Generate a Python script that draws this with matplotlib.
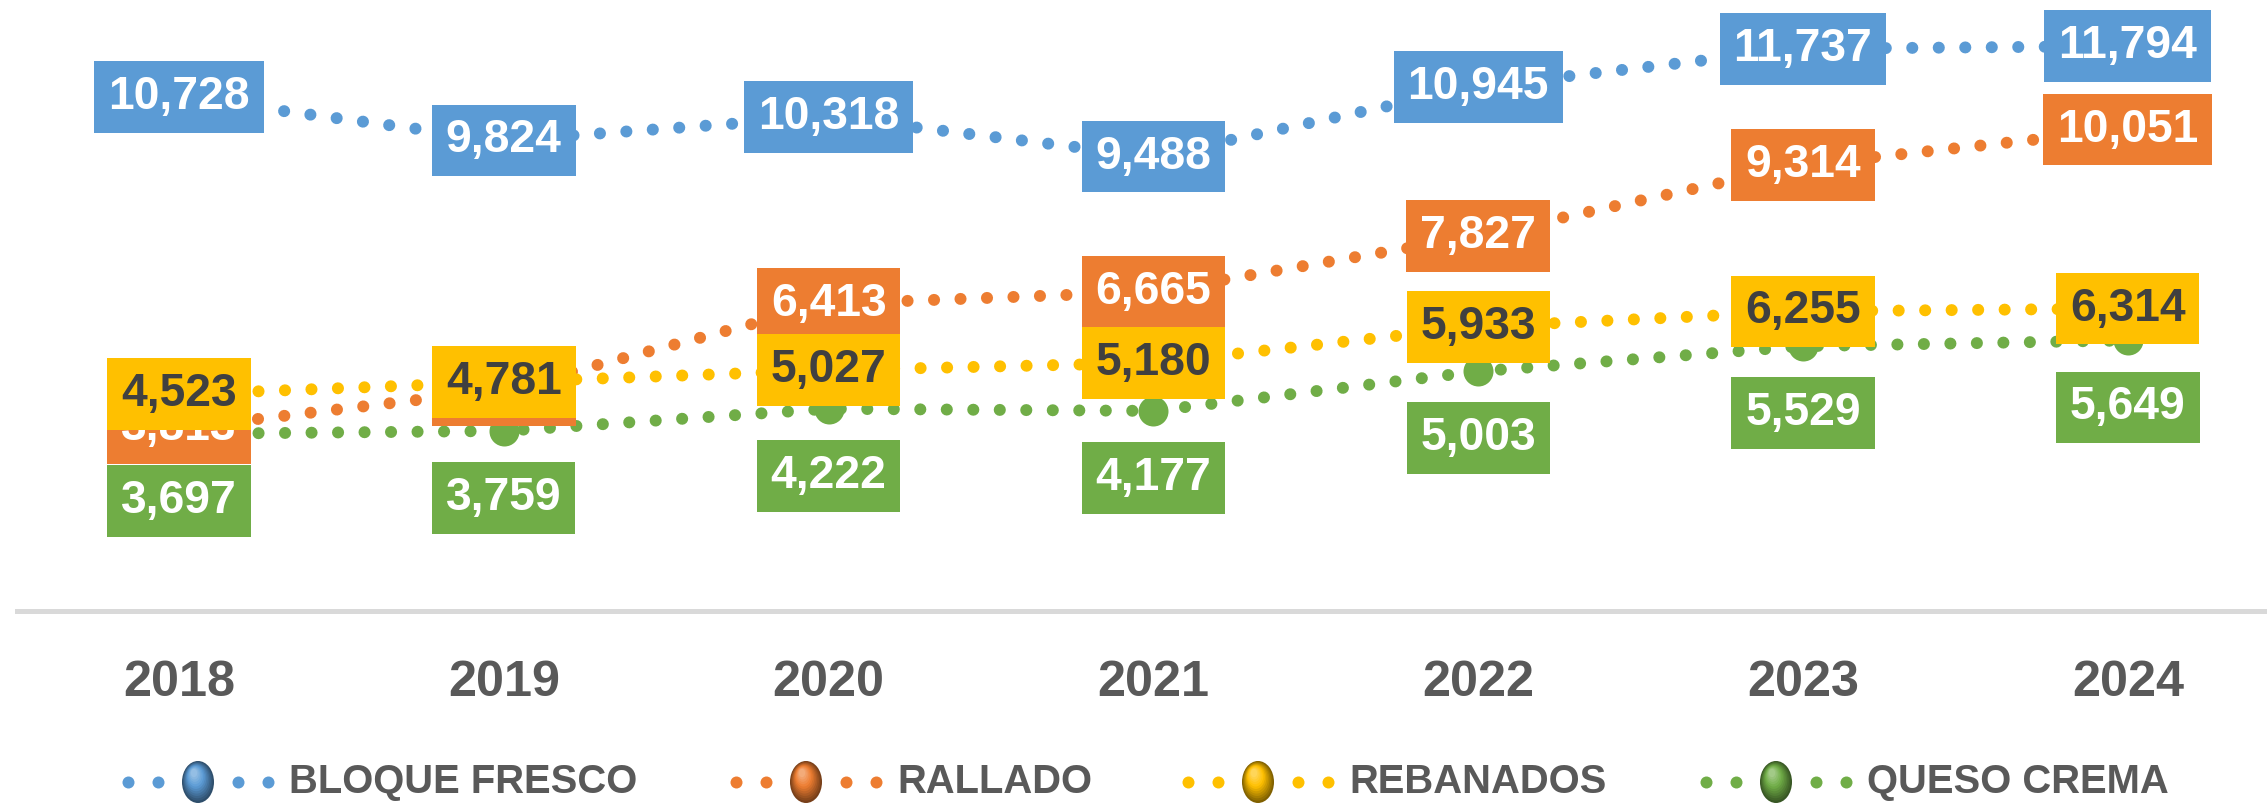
import matplotlib
matplotlib.use("Agg")
import matplotlib.pyplot as plt
from matplotlib.patches import Ellipse
import numpy as np

# ---------------- data ----------------
years = ["2018", "2019", "2020", "2021", "2022", "2023", "2024"]
bloque_fresco = [10728, 9824, 10318, 9488, 10945, 11737, 11794]
rallado = [3813, 4620, 6413, 6665, 7827, 9314, 10051]
rebanados = [4523, 4781, 5027, 5180, 5933, 6255, 6314]
queso_crema = [3697, 3759, 4222, 4177, 5003, 5529, 5649]
series_names = ["BLOQUE FRESCO", "RALLADO", "REBANADOS", "QUESO CREMA"]

# ---------------- style ----------------
colors = ["#5B9BD5", "#ED7D31", "#FFC000", "#70AD47"]
text_colors = ["white", "white", "#404040", "white"]
label_offsets_px = [0, 0, 0, -67]   # green labels sit below the point
FONT = ["Liberation Sans", "DejaVu Sans"]
GRAY = "#595959"

W, H, DPI = 2267, 810, 100
fig = plt.figure(figsize=(W / DPI, H / DPI), dpi=DPI)
px2pt = 72.0 / DPI

# axes geometry (pixels)
x0_px, step_px = 179.0, 324.8
left_px = x0_px - 0.5 * step_px
zero_px = 611.0
ymax = 12000
k = 0.0479  # px per unit
ax = fig.add_axes([left_px / W, (H - zero_px) / H, 7 * step_px / W, ymax * k / H])
ax.set_xlim(-0.5, 6.5)
ax.set_ylim(0, ymax)

for s in ["top", "right", "left"]:
    ax.spines[s].set_visible(False)
ax.spines["bottom"].set_color("#D9D9D9")
ax.spines["bottom"].set_linewidth(5 * px2pt)
ax.set_yticks([])
x = np.arange(len(years))
ax.set_xticks(x)
ax.set_xticklabels(years)
ax.tick_params(axis="x", length=0, pad=35)
for t in ax.get_xticklabels():
    t.set_fontfamily(FONT)
    t.set_fontweight("bold")
    t.set_fontsize(36.3)
    t.set_color(GRAY)

lw_pt = 12 * px2pt
gap = 26.5 * px2pt / lw_pt - 0.01
all_series = [bloque_fresco, rallado, rebanados, queso_crema]
for i, vals in enumerate(all_series):
    ax.plot(x, vals, color=colors[i], lw=lw_pt, ls=(0, (0.01, gap)),
            dash_capstyle="round", solid_capstyle="round", zorder=2 + i * 0.1,
            clip_on=False)
    ax.plot(x, vals, ls="none", marker="o", markersize=30 * px2pt,
            markerfacecolor=colors[i], markeredgewidth=0, zorder=3 + i * 0.1,
            clip_on=False)

for i, vals in enumerate(all_series):
    for xi, v in zip(x, vals):
        ax.annotate(f"{v:,}", (xi, v), xytext=(0, label_offsets_px[i] * px2pt),
                    textcoords="offset points", ha="center", va="center",
                    fontsize=33.3, fontweight="bold", family=FONT,
                    color=text_colors[i], zorder=10 + i, annotation_clip=False,
                    bbox=dict(boxstyle="square,pad=0.3", fc=colors[i], ec="none"))

# ---------------- legend ----------------
lax = fig.add_axes([0, 0, 1, 1])
lax.set_xlim(0, W)
lax.set_ylim(H, 0)
lax.axis("off")
leg_y = 782
leg_text_x = [289, 897, 1349, 1867]


def shade(c, f):
    rgb = np.array(matplotlib.colors.to_rgb(c))
    if f < 0:
        return tuple(rgb * (1 + f))
    return tuple(rgb + (1 - rgb) * f)


for i, name in enumerate(series_names):
    tx = leg_text_x[i]
    cx = tx - 21 - 70
    dots = [cx - 70, cx - 40, cx + 40, cx + 70]
    lax.plot(dots, [leg_y] * 4, ls="none", marker="o", markersize=12 * px2pt,
             markerfacecolor=colors[i], markeredgewidth=0)
    # sphere-like legend marker
    n = 12
    for j in range(n):
        f = j / (n - 1)
        w = 32 * (1 - 0.8 * f)
        h = 42 * (1 - 0.8 * f)
        ox = -4 * f
        oy = -9 * f
        col = shade(colors[i], -0.5 + 0.85 * f)
        lax.add_patch(Ellipse((cx + ox, leg_y + oy), w, h, fc=col, ec="none"))
    lax.text(tx, leg_y, name, ha="left", va="center", fontsize=28.8,
             fontweight="bold", family=FONT, color=GRAY)

fig.savefig("out.png", dpi=DPI)
